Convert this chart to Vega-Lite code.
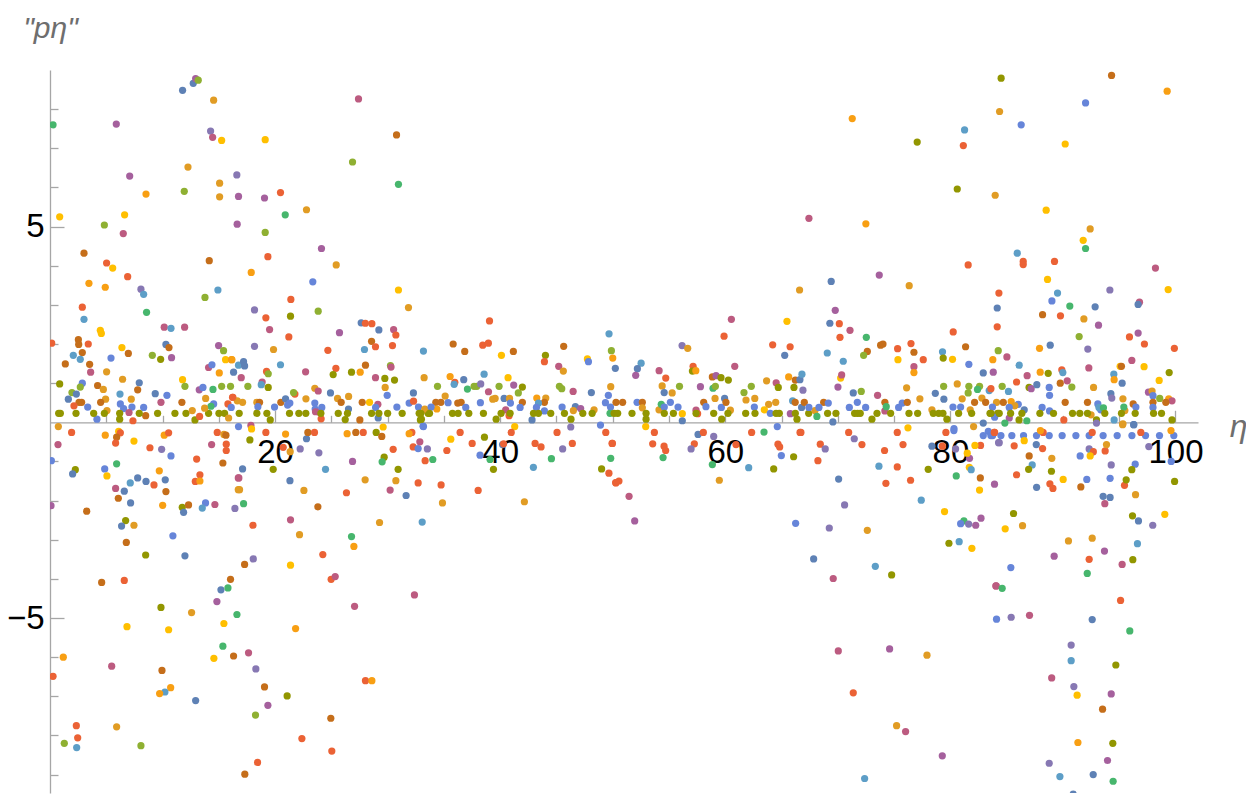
{
"$schema":"https://vega.github.io/schema/vega-lite/v6.json",
"width":1148,"height":723,
"autosize":{"type":"none"},
"padding":{"left":50,"top":70,"right":48,"bottom":6},
"background":"white",
"config":{"view":{"stroke":null}},
"data":{"values":[
{"x":0.27,"y":7.6,"s":"G2"},{"x":5.89,"y":7.62,"s":"M"},{"x":7.08,"y":6.29,"s":"M"},{"x":8.53,"y":5.83,"s":"O2"},{"x":0.86,"y":5.25,"s":"Y"},{"x":6.63,"y":5.3,"s":"Y"},{"x":4.83,"y":5.04,"s":"G"},{"x":6.51,"y":4.82,"s":"K"},{"x":3.02,"y":4.32,"s":"D"},{"x":5.03,"y":4.07,"s":"R"},{"x":5.57,"y":3.94,"s":"Y"},{"x":6.9,"y":3.72,"s":"R"},{"x":3.46,"y":3.55,"s":"O2"},{"x":4.91,"y":3.45,"s":"O2"},{"x":8.08,"y":3.4,"s":"P"},{"x":8.32,"y":3.27,"s":"L"},{"x":2.87,"y":2.94,"s":"R"},{"x":8.58,"y":2.81,"s":"G2"},{"x":3.02,"y":2.63,"s":"L"},{"x":10.15,"y":2.43,"s":"K"},{"x":10.75,"y":2.4,"s":"L"},{"x":11.96,"y":2.43,"s":"K"},{"x":4.47,"y":2.35,"s":"Y"},{"x":4.56,"y":2.27,"s":"Y"},{"x":0.15,"y":2.02,"s":"R"},{"x":2.52,"y":2.11,"s":"D"},{"x":2.55,"y":1.99,"s":"D"},{"x":3.4,"y":2.0,"s":"R"},{"x":10.3,"y":1.99,"s":"B"},{"x":10.57,"y":1.91,"s":"D"},{"x":6.39,"y":1.91,"s":"Y"},{"x":6.96,"y":1.76,"s":"D"},{"x":2.87,"y":1.78,"s":"D"},{"x":2.07,"y":1.71,"s":"L"},{"x":2.69,"y":1.61,"s":"L"},{"x":5.42,"y":1.64,"s":"B2"},{"x":9.09,"y":1.71,"s":"G"},{"x":9.83,"y":1.61,"s":"V"},{"x":10.8,"y":1.65,"s":"M"},{"x":1.36,"y":1.49,"s":"D"},{"x":3.52,"y":1.48,"s":"D"},{"x":3.61,"y":1.28,"s":"K"},{"x":5.03,"y":1.29,"s":"O"},{"x":0.86,"y":0.98,"s":"V"},{"x":2.87,"y":1.0,"s":"B2"},{"x":2.69,"y":0.9,"s":"G"},{"x":4.23,"y":0.94,"s":"D"},{"x":4.74,"y":0.84,"s":"O"},{"x":6.45,"y":1.1,"s":"O"},{"x":7.93,"y":1.01,"s":"B"},{"x":7.79,"y":0.83,"s":"D"},{"x":6.22,"y":0.72,"s":"L"},{"x":9.35,"y":0.73,"s":"B"},{"x":10.39,"y":0.69,"s":"B2"},{"x":9.86,"y":0.51,"s":"K"},{"x":1.95,"y":0.76,"s":"G"},{"x":1.63,"y":0.59,"s":"B"},{"x":2.34,"y":0.72,"s":"B"},{"x":2.58,"y":0.51,"s":"D"},{"x":2.81,"y":0.51,"s":"D"},{"x":2.13,"y":0.42,"s":"R"},{"x":4.94,"y":0.59,"s":"O"},{"x":4.5,"y":0.51,"s":"D"},{"x":7.22,"y":0.59,"s":"O"},{"x":3.35,"y":0.39,"s":"B2"},{"x":6.25,"y":0.47,"s":"B2"},{"x":6.54,"y":0.35,"s":"B2"},{"x":7.28,"y":0.39,"s":"B2"},{"x":8.32,"y":0.38,"s":"B2"},{"x":7.02,"y":0.25,"s":"K"},{"x":5.06,"y":0.3,"s":"O"},{"x":8.5,"y":0.17,"s":"D"},{"x":4.17,"y":0.08,"s":"B2"},{"x":6.19,"y":0.08,"s":"V"},{"x":7.37,"y":0.04,"s":"R"},
{"x":0.77,"y":0.23,"s":"V"},{"x":0.92,"y":0.23,"s":"V"},{"x":2.31,"y":0.23,"s":"V"},{"x":3.88,"y":0.23,"s":"V"},{"x":4.83,"y":0.23,"s":"V"},{"x":6.19,"y":0.23,"s":"V"},{"x":7.93,"y":0.23,"s":"V"},{"x":9.56,"y":0.23,"s":"V"},{"x":11.1,"y":0.23,"s":"V"},{"x":12.08,"y":0.23,"s":"V"},{"x":14.09,"y":0.23,"s":"V"},{"x":15.01,"y":0.23,"s":"V"},{"x":15.51,"y":0.23,"s":"V"},{"x":16.81,"y":0.23,"s":"V"},{"x":12.88,"y":0.06,"s":"V"},
{"x":11.78,"y":8.48,"s":"B"},{"x":12.73,"y":8.66,"s":"B"},{"x":12.94,"y":8.78,"s":"M"},{"x":13.17,"y":8.74,"s":"G"},{"x":14.54,"y":8.23,"s":"O"},{"x":14.27,"y":7.44,"s":"P"},{"x":14.45,"y":7.28,"s":"K"},{"x":15.25,"y":7.2,"s":"Y"},{"x":12.26,"y":6.52,"s":"O"},{"x":15.07,"y":6.11,"s":"O"},{"x":15.07,"y":5.76,"s":"O"},{"x":11.93,"y":5.9,"s":"G"},{"x":16.6,"y":6.32,"s":"P"},{"x":16.75,"y":5.77,"s":"M"},{"x":16.63,"y":5.06,"s":"M"},{"x":14.15,"y":4.13,"s":"D"},{"x":13.77,"y":3.19,"s":"G"},{"x":14.92,"y":3.38,"s":"L"},{"x":14.98,"y":1.96,"s":"M"},{"x":15.42,"y":1.83,"s":"G"},{"x":15.6,"y":1.6,"s":"Y"},{"x":16.13,"y":1.6,"s":"O2"},{"x":14.09,"y":1.4,"s":"K"},{"x":14.39,"y":1.47,"s":"B2"},{"x":15.04,"y":1.26,"s":"O2"},{"x":16.31,"y":1.28,"s":"B"},{"x":11.78,"y":1.09,"s":"Y"},{"x":11.99,"y":0.92,"s":"G"},{"x":13.26,"y":0.83,"s":"M"},{"x":13.59,"y":0.89,"s":"B2"},{"x":14.48,"y":0.84,"s":"G2"},{"x":15.25,"y":0.92,"s":"G"},{"x":16.04,"y":0.92,"s":"G"},{"x":13.83,"y":0.61,"s":"O"},{"x":11.72,"y":0.51,"s":"D"},{"x":14.54,"y":0.47,"s":"B2"},{"x":14.3,"y":0.41,"s":"G2"},{"x":13.74,"y":0.36,"s":"O"},{"x":16.25,"y":0.64,"s":"R"},{"x":16.64,"y":0.55,"s":"O"},{"x":15.81,"y":0.47,"s":"R"},{"x":16.1,"y":0.38,"s":"B2"},{"x":12.64,"y":0.3,"s":"O"},{"x":13.29,"y":0.15,"s":"R"},{"x":15.87,"y":0.11,"s":"O"},{"x":16.75,"y":-0.11,"s":"B2"},
{"x":0.74,"y":-0.11,"s":"O"},{"x":1.92,"y":-0.26,"s":"R"},{"x":0.71,"y":-0.57,"s":"K"},{"x":0.12,"y":-0.98,"s":"B2"},{"x":2.25,"y":-1.21,"s":"V"},{"x":2.01,"y":-1.32,"s":"B"},{"x":0.09,"y":-2.13,"s":"M"},{"x":3.26,"y":-2.27,"s":"D"},{"x":4.91,"y":-0.33,"s":"O2"},{"x":6.1,"y":-0.23,"s":"Y"},{"x":6.25,"y":-0.27,"s":"R"},{"x":5.92,"y":-0.38,"s":"D"},{"x":5.83,"y":-0.53,"s":"R"},{"x":7.46,"y":-0.48,"s":"Y"},{"x":8.88,"y":-0.65,"s":"R"},{"x":9.92,"y":-0.69,"s":"P"},{"x":10.15,"y":-0.33,"s":"O2"},{"x":10.54,"y":-0.27,"s":"R"},{"x":10.75,"y":-0.86,"s":"B2"},{"x":5.92,"y":-1.06,"s":"G2"},{"x":4.86,"y":-1.19,"s":"B2"},{"x":5.06,"y":-1.37,"s":"Y"},{"x":9.71,"y":-1.24,"s":"O2"},{"x":7.79,"y":-1.42,"s":"B"},{"x":8.53,"y":-1.51,"s":"B"},{"x":7.13,"y":-1.55,"s":"L"},{"x":9.24,"y":-1.6,"s":"R"},{"x":10.24,"y":-1.47,"s":"B"},{"x":5.83,"y":-1.69,"s":"K"},{"x":6.6,"y":-1.76,"s":"B"},{"x":10.3,"y":-1.77,"s":"D"},{"x":6.07,"y":-1.94,"s":"D"},{"x":7.16,"y":-2.06,"s":"B"},{"x":10.01,"y":-2.12,"s":"O2"},{"x":11.75,"y":-2.17,"s":"V"},{"x":12.31,"y":-2.11,"s":"D"},{"x":11.87,"y":-2.3,"s":"B"},{"x":13.82,"y":-2.06,"s":"B2"},{"x":13.53,"y":-2.19,"s":"L"},{"x":14.65,"y":-2.1,"s":"K"},{"x":16.43,"y":-2.2,"s":"P"},{"x":6.72,"y":-2.51,"s":"V"},{"x":6.36,"y":-2.65,"s":"B"},{"x":7.46,"y":-2.63,"s":"O"},{"x":10.92,"y":-2.9,"s":"B2"},{"x":6.78,"y":-3.07,"s":"D"},{"x":8.5,"y":-3.39,"s":"V"},{"x":11.99,"y":-3.41,"s":"B"},{"x":4.59,"y":-4.09,"s":"D"},{"x":6.6,"y":-4.04,"s":"R"},{"x":16.04,"y":-4.01,"s":"D"},{"x":15.19,"y":-4.28,"s":"B"},{"x":15.81,"y":-4.23,"s":"G2"},{"x":14.83,"y":-4.58,"s":"M"},{"x":9.86,"y":-4.73,"s":"V"},{"x":12.58,"y":-4.86,"s":"O"},{"x":16.61,"y":-4.91,"s":"G2"},{"x":6.84,"y":-5.22,"s":"Y"},{"x":10.54,"y":-5.3,"s":"Y"},{"x":15.45,"y":-5.14,"s":"Y"},{"x":15.36,"y":-5.72,"s":"G2"},{"x":1.18,"y":-6.0,"s":"O2"},{"x":14.56,"y":-6.03,"s":"Y"},{"x":16.31,"y":-5.97,"s":"D"},{"x":5.48,"y":-6.23,"s":"K"},{"x":0.27,"y":-6.49,"s":"R"},{"x":9.95,"y":-6.34,"s":"D"},{"x":10.72,"y":-6.78,"s":"O2"},{"x":10.21,"y":-6.89,"s":"L"},{"x":9.74,"y":-6.93,"s":"O2"},{"x":12.94,"y":-7.11,"s":"B"},{"x":2.34,"y":-7.75,"s":"R"},{"x":5.92,"y":-7.78,"s":"O"},{"x":2.46,"y":-8.06,"s":"R"},{"x":1.27,"y":-8.2,"s":"G"},{"x":2.37,"y":-8.31,"s":"L"},{"x":8.08,"y":-8.26,"s":"G"},{"x":13.03,"y":-0.94,"s":"R"},{"x":13.32,"y":-1.34,"s":"R"},{"x":12.91,"y":-1.51,"s":"R"},{"x":13.32,"y":-1.5,"s":"O2"},{"x":14.36,"y":-0.57,"s":"K"},{"x":14.86,"y":-0.26,"s":"R"},{"x":15.45,"y":-0.31,"s":"O"},{"x":15.63,"y":-0.33,"s":"D"},{"x":15.66,"y":-0.56,"s":"R"},{"x":15.66,"y":-0.72,"s":"R"},{"x":15.36,"y":-1.04,"s":"D"},{"x":16.73,"y":-1.42,"s":"K"},{"x":16.73,"y":-1.72,"s":"O"},
{"x":27.41,"y":8.26,"s":"K"},{"x":19.12,"y":7.22,"s":"Y"},{"x":30.79,"y":7.34,"s":"D"},{"x":26.88,"y":6.65,"s":"G"},{"x":30.96,"y":6.08,"s":"G2"},{"x":20.48,"y":5.87,"s":"R"},{"x":20.9,"y":5.3,"s":"G2"},{"x":19.06,"y":5.73,"s":"M"},{"x":22.79,"y":5.43,"s":"O"},{"x":19.12,"y":4.85,"s":"G"},{"x":19.36,"y":4.23,"s":"R"},{"x":24.12,"y":4.44,"s":"M"},{"x":17.88,"y":3.83,"s":"O2"},{"x":25.43,"y":4.02,"s":"O"},{"x":23.35,"y":3.59,"s":"B2"},{"x":30.96,"y":3.38,"s":"Y"},{"x":31.85,"y":2.93,"s":"O"},{"x":21.4,"y":3.14,"s":"R"},{"x":23.83,"y":2.84,"s":"G"},{"x":18.17,"y":2.87,"s":"P"},{"x":19.18,"y":2.67,"s":"R"},{"x":21.37,"y":2.71,"s":"V"},{"x":19.51,"y":2.37,"s":"K"},{"x":25.72,"y":2.29,"s":"M"},{"x":21.22,"y":2.18,"s":"R"},{"x":27.65,"y":2.54,"s":"B"},{"x":28.02,"y":2.53,"s":"R"},{"x":28.6,"y":2.52,"s":"R"},{"x":29.22,"y":2.36,"s":"B"},{"x":30.53,"y":2.37,"s":"K"},{"x":30.73,"y":2.23,"s":"R"},{"x":18.17,"y":1.94,"s":"P"},{"x":19.86,"y":1.86,"s":"O"},{"x":24.69,"y":1.84,"s":"R"},{"x":28.57,"y":2.07,"s":"D"},{"x":28.92,"y":1.93,"s":"R"},{"x":27.94,"y":1.86,"s":"L"},{"x":30.43,"y":1.96,"s":"R"},{"x":33.18,"y":1.82,"s":"L"},{"x":16.16,"y":1.6,"s":"O2"},{"x":16.75,"y":1.46,"s":"L"},{"x":17.2,"y":1.55,"s":"B"},{"x":17.29,"y":1.44,"s":"B"},{"x":16.99,"y":1.14,"s":"K"},{"x":17.58,"y":0.92,"s":"G"},{"x":20.48,"y":1.47,"s":"L"},{"x":19.24,"y":1.3,"s":"R"},{"x":19.39,"y":1.24,"s":"G"},{"x":18.85,"y":1.03,"s":"K"},{"x":18.77,"y":0.96,"s":"L"},{"x":19.39,"y":0.89,"s":"V"},{"x":22.71,"y":1.29,"s":"K"},{"x":25.4,"y":1.38,"s":"R"},{"x":25.16,"y":1.22,"s":"V"},{"x":26.79,"y":1.28,"s":"V"},{"x":28.03,"y":1.46,"s":"D"},{"x":27.56,"y":1.28,"s":"O2"},{"x":30.25,"y":1.45,"s":"G"},{"x":30.3,"y":1.41,"s":"K"},{"x":28.92,"y":1.14,"s":"K"},{"x":29.75,"y":1.12,"s":"V"},{"x":30.61,"y":1.08,"s":"V"},{"x":33.24,"y":1.14,"s":"O"},{"x":29.78,"y":0.89,"s":"O"},{"x":29.96,"y":0.69,"s":"B2"},{"x":32.29,"y":0.75,"s":"B"},{"x":16.22,"y":0.64,"s":"R"},{"x":17.11,"y":0.51,"s":"O"},{"x":18.38,"y":0.51,"s":"O"},{"x":18.62,"y":0.51,"s":"D"},{"x":20.51,"y":0.51,"s":"D"},{"x":20.93,"y":0.6,"s":"B"},{"x":21.76,"y":0.72,"s":"R"},{"x":21.64,"y":0.76,"s":"G"},{"x":23.53,"y":0.87,"s":"O"},{"x":23.83,"y":0.8,"s":"K"},{"x":24.92,"y":0.75,"s":"B"},{"x":22.74,"y":0.6,"s":"O"},{"x":23.53,"y":0.49,"s":"B2"},{"x":25.55,"y":0.61,"s":"O"},{"x":25.87,"y":0.51,"s":"D"},{"x":26.53,"y":0.66,"s":"O"},{"x":27.74,"y":0.51,"s":"D"},{"x":28.39,"y":0.51,"s":"Y"},{"x":19.95,"y":0.39,"s":"B2"},{"x":18.47,"y":0.4,"s":"B2"},{"x":21.11,"y":0.44,"s":"B2"},{"x":21.31,"y":0.49,"s":"B2"},{"x":23.56,"y":0.34,"s":"B2"},{"x":23.59,"y":0.27,"s":"K"},{"x":23.89,"y":0.26,"s":"K"},{"x":24.15,"y":0.38,"s":"B2"},{"x":26.52,"y":0.34,"s":"B"},{"x":29.13,"y":0.46,"s":"K"},{"x":28.93,"y":0.38,"s":"B2"},{"x":30.82,"y":0.39,"s":"B2"},{"x":31.91,"y":0.49,"s":"B2"},{"x":32.3,"y":0.54,"s":"R"},{"x":32.74,"y":0.39,"s":"B2"},{"x":33.36,"y":0.32,"s":"O"},{"x":24.09,"y":0.09,"s":"R"},{"x":27.53,"y":0.06,"s":"D"},{"x":29.16,"y":0.11,"s":"B"},{"x":19.57,"y":0.06,"s":"V"},{"x":26.23,"y":0.07,"s":"V"},{"x":32.91,"y":0.06,"s":"V"},
{"x":18.38,"y":0.23,"s":"V"},{"x":19.27,"y":0.23,"s":"V"},{"x":21.28,"y":0.23,"s":"V"},{"x":22.11,"y":0.23,"s":"V"},{"x":22.73,"y":0.23,"s":"V"},{"x":24.07,"y":0.23,"s":"V"},{"x":25.61,"y":0.23,"s":"V"},{"x":26.43,"y":0.23,"s":"V"},{"x":28.57,"y":0.23,"s":"V"},{"x":29.22,"y":0.23,"s":"V"},{"x":30.0,"y":0.23,"s":"V"},{"x":31.29,"y":0.23,"s":"V"},{"x":32.8,"y":0.23,"s":"V"},{"x":33.6,"y":0.23,"s":"V"},
{"x":17.85,"y":-0.08,"s":"K"},{"x":29.6,"y":-0.12,"s":"Y"},{"x":33.15,"y":-0.1,"s":"B2"},{"x":17.91,"y":-0.17,"s":"Y"},{"x":17.76,"y":-0.45,"s":"V"},{"x":19.18,"y":-0.26,"s":"R"},{"x":20.93,"y":-0.3,"s":"O2"},{"x":20.72,"y":-0.64,"s":"R"},{"x":21.34,"y":-0.75,"s":"O"},{"x":19.83,"y":-1.2,"s":"V"},{"x":17.11,"y":-1.19,"s":"B"},{"x":16.78,"y":-1.42,"s":"K"},{"x":16.84,"y":-1.72,"s":"O"},{"x":17.2,"y":-2.08,"s":"G2"},{"x":18.03,"y":-2.63,"s":"R"},{"x":22.23,"y":-0.68,"s":"P"},{"x":22.79,"y":-0.42,"s":"B"},{"x":22.91,"y":-0.26,"s":"D"},{"x":23.5,"y":-0.26,"s":"R"},{"x":23.89,"y":-0.78,"s":"P"},{"x":24.48,"y":-1.2,"s":"L"},{"x":21.32,"y":-1.49,"s":"B"},{"x":22.56,"y":-1.74,"s":"O"},{"x":23.8,"y":-2.16,"s":"D"},{"x":21.37,"y":-2.49,"s":"K"},{"x":26.34,"y":-1.8,"s":"R"},{"x":22.17,"y":-2.87,"s":"O"},{"x":21.37,"y":-3.65,"s":"Y"},{"x":24.24,"y":-3.38,"s":"R"},{"x":24.98,"y":-4.01,"s":"R"},{"x":25.34,"y":-3.94,"s":"K"},{"x":17.29,"y":-3.63,"s":"D"},{"x":18.06,"y":-3.49,"s":"P"},{"x":27.06,"y":-4.7,"s":"K"},{"x":21.82,"y":-5.27,"s":"O2"},{"x":17.64,"y":-5.89,"s":"K"},{"x":18.29,"y":-6.3,"s":"P"},{"x":19.06,"y":-6.76,"s":"D"},{"x":21.07,"y":-6.99,"s":"V"},{"x":19.36,"y":-7.23,"s":"M"},{"x":18.26,"y":-7.48,"s":"G"},{"x":24.95,"y":-7.56,"s":"D"},{"x":22.38,"y":-8.08,"s":"R"},{"x":25.04,"y":-8.4,"s":"R"},{"x":18.44,"y":-8.69,"s":"R"},{"x":17.31,"y":-8.99,"s":"D"},{"x":28.03,"y":-6.6,"s":"R"},{"x":28.6,"y":-6.6,"s":"O2"},{"x":32.38,"y":-4.41,"s":"K"},{"x":33.07,"y":-2.55,"s":"L"},{"x":29.28,"y":-2.56,"s":"O"},{"x":26.79,"y":-2.92,"s":"G2"},{"x":27.0,"y":-3.17,"s":"O2"},{"x":28.0,"y":-1.47,"s":"O"},{"x":26.88,"y":-1.0,"s":"M"},{"x":27.17,"y":-0.26,"s":"D"},{"x":26.4,"y":-0.29,"s":"O2"},{"x":27.83,"y":-0.26,"s":"R"},{"x":28.98,"y":-0.26,"s":"V"},{"x":29.48,"y":-0.36,"s":"D"},{"x":30.49,"y":-0.69,"s":"R"},{"x":29.69,"y":-0.89,"s":"V"},{"x":29.51,"y":-1.01,"s":"G2"},{"x":30.93,"y":-1.2,"s":"V"},{"x":30.73,"y":-1.49,"s":"O"},{"x":30.22,"y":-1.73,"s":"K"},{"x":31.64,"y":-1.87,"s":"B"},{"x":32.71,"y":-1.55,"s":"R"},{"x":32.15,"y":-0.26,"s":"R"},{"x":31.91,"y":-0.29,"s":"O2"},{"x":32.27,"y":-0.63,"s":"R"},{"x":32.71,"y":-0.67,"s":"B2"},{"x":32.86,"y":-0.5,"s":"K"},{"x":33.53,"y":-0.68,"s":"P"},{"x":33.33,"y":-0.98,"s":"R"},
{"x":39.05,"y":2.59,"s":"R"},{"x":35.82,"y":2.0,"s":"D"},{"x":38.45,"y":1.97,"s":"R"},{"x":38.95,"y":2.02,"s":"R"},{"x":36.85,"y":1.81,"s":"D"},{"x":40.11,"y":1.71,"s":"Y"},{"x":41.17,"y":1.81,"s":"D"},{"x":44.02,"y":1.71,"s":"V"},{"x":43.93,"y":1.55,"s":"R"},{"x":45.2,"y":1.43,"s":"K"},{"x":45.61,"y":1.31,"s":"O"},{"x":45.64,"y":1.94,"s":"D"},{"x":47.75,"y":1.62,"s":"Y"},{"x":47.84,"y":1.55,"s":"B2"},{"x":49.67,"y":2.26,"s":"L"},{"x":49.88,"y":1.83,"s":"G"},{"x":50.0,"y":1.64,"s":"O2"},{"x":50.23,"y":1.38,"s":"B"},{"x":35.55,"y":1.17,"s":"O2"},{"x":35.97,"y":1.02,"s":"R"},{"x":35.91,"y":0.97,"s":"L"},{"x":36.76,"y":1.09,"s":"B"},{"x":37.09,"y":0.85,"s":"G2"},{"x":34.43,"y":0.92,"s":"G"},{"x":37.68,"y":0.92,"s":"G"},{"x":37.92,"y":0.92,"s":"G"},{"x":38.27,"y":0.98,"s":"P"},{"x":38.57,"y":1.23,"s":"L"},{"x":38.96,"y":0.78,"s":"K"},{"x":39.9,"y":0.92,"s":"G"},{"x":40.7,"y":1.14,"s":"Y"},{"x":41.2,"y":0.95,"s":"M"},{"x":41.61,"y":0.75,"s":"G"},{"x":41.97,"y":0.9,"s":"V"},{"x":35.11,"y":0.67,"s":"O"},{"x":34.28,"y":0.51,"s":"D"},{"x":34.73,"y":0.51,"s":"D"},{"x":36.23,"y":0.49,"s":"D"},{"x":36.53,"y":0.51,"s":"D"},{"x":35.37,"y":0.5,"s":"B2"},{"x":33.3,"y":0.34,"s":"O"},{"x":34.37,"y":0.34,"s":"O2"},{"x":33.86,"y":0.39,"s":"B2"},{"x":36.94,"y":0.38,"s":"B2"},{"x":38.24,"y":0.5,"s":"B2"},{"x":39.34,"y":0.59,"s":"O"},{"x":39.55,"y":0.61,"s":"O"},{"x":40.35,"y":0.61,"s":"B"},{"x":40.83,"y":0.61,"s":"O"},{"x":40.91,"y":0.49,"s":"B2"},{"x":41.97,"y":0.51,"s":"D"},{"x":41.77,"y":0.38,"s":"B2"},{"x":40.49,"y":0.32,"s":"K"},{"x":40.79,"y":0.17,"s":"R"},{"x":39.64,"y":0.08,"s":"V"},{"x":43.25,"y":0.62,"s":"O2"},{"x":44.05,"y":0.62,"s":"O"},{"x":43.93,"y":0.51,"s":"D"},{"x":43.4,"y":0.49,"s":"L"},{"x":43.22,"y":0.38,"s":"B2"},{"x":43.93,"y":0.29,"s":"B2"},{"x":45.26,"y":0.92,"s":"G"},{"x":45.47,"y":0.86,"s":"G"},{"x":46.48,"y":0.79,"s":"K"},{"x":48.1,"y":0.76,"s":"B"},{"x":45.5,"y":0.39,"s":"B2"},{"x":46.68,"y":0.4,"s":"B"},{"x":46.5,"y":0.3,"s":"O"},{"x":47.15,"y":0.35,"s":"M"},{"x":48.34,"y":0.32,"s":"O"},{"x":46.29,"y":0.08,"s":"V"},{"x":49.82,"y":0.91,"s":"O"},{"x":49.61,"y":0.69,"s":"B2"},{"x":49.35,"y":0.5,"s":"B2"},{"x":49.8,"y":0.39,"s":"B2"},{"x":50.29,"y":0.51,"s":"D"},{"x":49.76,"y":0.23,"s":"G2"},{"x":42.83,"y":0.06,"s":"B"},{"x":33.0,"y":0.08,"s":"V"},
{"x":32.95,"y":0.23,"s":"V"},{"x":33.72,"y":0.23,"s":"V"},{"x":35.76,"y":0.23,"s":"V"},{"x":36.26,"y":0.23,"s":"V"},{"x":37.21,"y":0.23,"s":"V"},{"x":38.51,"y":0.23,"s":"V"},{"x":40.08,"y":0.23,"s":"V"},{"x":40.88,"y":0.23,"s":"V"},{"x":42.96,"y":0.23,"s":"V"},{"x":43.4,"y":0.23,"s":"V"},{"x":44.49,"y":0.23,"s":"V"},{"x":45.71,"y":0.23,"s":"V"},{"x":47.34,"y":0.23,"s":"V"},{"x":48.17,"y":0.23,"s":"V"},{"x":50.12,"y":0.23,"s":"V"},{"x":50.44,"y":0.23,"s":"V"},
{"x":33.18,"y":-0.11,"s":"B2"},{"x":41.29,"y":-0.11,"s":"Y"},{"x":46.27,"y":-0.12,"s":"P"},{"x":48.91,"y":-0.07,"s":"B2"},{"x":34.01,"y":-0.95,"s":"G2"},{"x":34.75,"y":-1.6,"s":"R"},{"x":34.87,"y":-2.06,"s":"O"},{"x":35.61,"y":-0.43,"s":"Y"},{"x":35.26,"y":-0.72,"s":"R"},{"x":36.44,"y":-0.26,"s":"R"},{"x":37.51,"y":-0.54,"s":"R"},{"x":38.6,"y":-0.38,"s":"V"},{"x":38.21,"y":-0.84,"s":"B2"},{"x":39.1,"y":-0.95,"s":"G2"},{"x":39.4,"y":-1.2,"s":"V"},{"x":38.04,"y":-1.74,"s":"R"},{"x":40.21,"y":-0.57,"s":"B"},{"x":40.3,"y":-0.55,"s":"R"},{"x":40.98,"y":-0.26,"s":"R"},{"x":43.1,"y":-0.54,"s":"R"},{"x":43.63,"y":-0.63,"s":"R"},{"x":42.95,"y":-1.15,"s":"L"},{"x":42.15,"y":-2.03,"s":"O"},{"x":44.55,"y":-0.93,"s":"G2"},{"x":45.05,"y":-0.26,"s":"R"},{"x":45.55,"y":-0.68,"s":"P"},{"x":46.41,"y":-0.54,"s":"R"},{"x":49.38,"y":-0.26,"s":"R"},{"x":49.94,"y":-0.54,"s":"R"},{"x":49.82,"y":-0.92,"s":"G2"},{"x":49.01,"y":-1.19,"s":"V"},{"x":49.66,"y":-1.3,"s":"R"},{"x":50.28,"y":-1.55,"s":"R"},{"x":50.55,"y":-1.5,"s":"R"},
{"x":67.43,"y":5.21,"s":"K"},{"x":66.6,"y":3.38,"s":"O"},{"x":65.48,"y":2.58,"s":"Y"},{"x":60.54,"y":2.63,"s":"K"},{"x":59.89,"y":2.2,"s":"R"},{"x":64.21,"y":1.98,"s":"R"},{"x":65.76,"y":1.93,"s":"R"},{"x":65.28,"y":1.71,"s":"B"},{"x":56.16,"y":1.96,"s":"P"},{"x":56.66,"y":1.89,"s":"O"},{"x":52.52,"y":1.51,"s":"L"},{"x":52.19,"y":1.37,"s":"B"},{"x":52.04,"y":1.2,"s":"M"},{"x":54.12,"y":1.32,"s":"K"},{"x":54.71,"y":1.13,"s":"R"},{"x":54.39,"y":0.93,"s":"O"},{"x":54.57,"y":0.76,"s":"B"},{"x":55.28,"y":0.75,"s":"O"},{"x":55.93,"y":0.92,"s":"G"},{"x":57.14,"y":1.43,"s":"R"},{"x":57.08,"y":1.31,"s":"V"},{"x":57.38,"y":1.32,"s":"O2"},{"x":57.79,"y":0.91,"s":"M"},{"x":60.84,"y":1.43,"s":"K"},{"x":58.85,"y":1.16,"s":"D"},{"x":59.18,"y":1.19,"s":"M"},{"x":59.62,"y":1.14,"s":"V"},{"x":60.27,"y":1.08,"s":"V"},{"x":58.91,"y":0.87,"s":"G2"},{"x":59.12,"y":0.92,"s":"G"},{"x":62.31,"y":0.92,"s":"G"},{"x":61.66,"y":0.76,"s":"G"},{"x":63.67,"y":1.06,"s":"O"},{"x":64.52,"y":1.01,"s":"K"},{"x":64.71,"y":0.89,"s":"V"},{"x":65.63,"y":1.16,"s":"O2"},{"x":66.22,"y":1.08,"s":"D"},{"x":66.63,"y":1.09,"s":"B"},{"x":66.81,"y":1.23,"s":"L"},{"x":66.1,"y":0.89,"s":"V"},{"x":66.9,"y":0.82,"s":"P"},{"x":59.09,"y":0.61,"s":"O"},{"x":50.88,"y":0.51,"s":"D"},{"x":52.16,"y":0.51,"s":"B2"},{"x":52.63,"y":0.51,"s":"D"},{"x":52.63,"y":0.37,"s":"O"},{"x":54.11,"y":0.32,"s":"O"},{"x":54.31,"y":0.46,"s":"G2"},{"x":54.58,"y":0.39,"s":"B2"},{"x":55.12,"y":0.51,"s":"B2"},{"x":55.8,"y":0.39,"s":"B2"},{"x":57.4,"y":0.31,"s":"K"},{"x":57.54,"y":0.22,"s":"R"},{"x":58.08,"y":0.51,"s":"D"},{"x":58.28,"y":0.4,"s":"B2"},{"x":59.65,"y":0.38,"s":"B2"},{"x":59.94,"y":0.61,"s":"B"},{"x":60.06,"y":0.51,"s":"D"},{"x":60.45,"y":0.31,"s":"O"},{"x":61.84,"y":0.57,"s":"O"},{"x":62.62,"y":0.61,"s":"O"},{"x":62.58,"y":0.39,"s":"B2"},{"x":63.85,"y":0.46,"s":"O"},{"x":64.48,"y":0.51,"s":"O"},{"x":63.47,"y":0.32,"s":"Y"},{"x":64.0,"y":0.23,"s":"B2"},{"x":65.98,"y":0.55,"s":"L"},{"x":66.21,"y":0.51,"s":"D"},{"x":66.78,"y":0.38,"s":"B"},{"x":65.78,"y":0.22,"s":"M"},{"x":56.18,"y":0.22,"s":"Y"},{"x":52.96,"y":0.08,"s":"V"},{"x":59.68,"y":0.08,"s":"V"},{"x":66.37,"y":0.08,"s":"V"},{"x":56.18,"y":0.04,"s":"B"},
{"x":51.71,"y":0.23,"s":"V"},{"x":52.96,"y":0.23,"s":"V"},{"x":54.58,"y":0.23,"s":"V"},{"x":55.39,"y":0.23,"s":"V"},{"x":57.4,"y":0.23,"s":"V"},{"x":58.97,"y":0.23,"s":"V"},{"x":60.24,"y":0.23,"s":"V"},{"x":61.81,"y":0.23,"s":"V"},{"x":62.64,"y":0.23,"s":"V"},{"x":64.51,"y":0.23,"s":"V"},{"x":64.8,"y":0.23,"s":"V"},{"x":66.22,"y":0.23,"s":"V"},{"x":67.41,"y":0.23,"s":"V"},
{"x":52.93,"y":-0.11,"s":"Y"},{"x":64.62,"y":-0.11,"s":"B2"},{"x":49.97,"y":-0.54,"s":"R"},{"x":50.26,"y":-1.54,"s":"R"},{"x":51.45,"y":-1.89,"s":"K"},{"x":51.95,"y":-2.52,"s":"M"},{"x":53.7,"y":-0.26,"s":"R"},{"x":53.55,"y":-0.55,"s":"R"},{"x":54.56,"y":-0.61,"s":"R"},{"x":54.7,"y":-0.72,"s":"R"},{"x":54.47,"y":-0.9,"s":"G2"},{"x":57.58,"y":-0.31,"s":"B"},{"x":58.05,"y":-0.26,"s":"R"},{"x":57.25,"y":-0.55,"s":"R"},{"x":56.96,"y":-0.68,"s":"P"},{"x":58.97,"y":-0.36,"s":"P"},{"x":60.95,"y":-0.57,"s":"R"},{"x":58.85,"y":-1.08,"s":"G2"},{"x":59.47,"y":-1.48,"s":"O"},{"x":62.08,"y":-1.16,"s":"L"},{"x":62.34,"y":-0.26,"s":"R"},{"x":63.44,"y":-0.25,"s":"G2"},{"x":64.68,"y":-0.56,"s":"R"},{"x":64.83,"y":-0.63,"s":"R"},{"x":64.98,"y":-0.85,"s":"B2"},{"x":64.3,"y":-1.19,"s":"V"},{"x":66.64,"y":-0.26,"s":"R"},{"x":66.07,"y":-0.88,"s":"V"},{"x":66.25,"y":-2.58,"s":"B2"},
{"x":84.51,"y":8.79,"s":"V"},{"x":84.37,"y":7.94,"s":"O"},{"x":81.26,"y":7.47,"s":"L"},{"x":81.15,"y":7.07,"s":"R"},{"x":71.28,"y":7.76,"s":"O2"},{"x":77.05,"y":7.16,"s":"V"},{"x":80.61,"y":5.96,"s":"V"},{"x":83.98,"y":5.8,"s":"O"},{"x":72.49,"y":5.07,"s":"O2"},{"x":81.58,"y":4.02,"s":"R"},{"x":73.68,"y":3.76,"s":"M"},{"x":76.34,"y":3.49,"s":"O"},{"x":69.41,"y":3.6,"s":"B"},{"x":84.31,"y":3.3,"s":"R"},{"x":84.16,"y":2.92,"s":"B"},{"x":69.77,"y":2.86,"s":"M"},{"x":69.29,"y":2.53,"s":"B"},{"x":70.13,"y":2.52,"s":"R"},{"x":70.19,"y":2.17,"s":"R"},{"x":71.08,"y":2.35,"s":"K"},{"x":84.16,"y":2.44,"s":"R"},{"x":84.25,"y":1.83,"s":"G"},{"x":69.06,"y":1.77,"s":"L"},{"x":70.48,"y":1.56,"s":"L"},{"x":72.53,"y":2.17,"s":"G2"},{"x":72.62,"y":1.81,"s":"D"},{"x":72.29,"y":1.71,"s":"G"},{"x":73.8,"y":1.97,"s":"D"},{"x":74.01,"y":2.0,"s":"D"},{"x":75.31,"y":1.88,"s":"R"},{"x":75.34,"y":1.6,"s":"Y"},{"x":76.5,"y":2.01,"s":"R"},{"x":76.76,"y":1.79,"s":"D"},{"x":77.59,"y":1.6,"s":"R"},{"x":76.76,"y":1.42,"s":"K"},{"x":76.76,"y":1.27,"s":"O2"},{"x":80.25,"y":2.31,"s":"R"},{"x":81.35,"y":1.93,"s":"D"},{"x":79.3,"y":1.8,"s":"L"},{"x":79.36,"y":1.64,"s":"V"},{"x":80.19,"y":1.61,"s":"Y"},{"x":81.64,"y":1.48,"s":"B2"},{"x":83.77,"y":1.6,"s":"O2"},{"x":82.92,"y":1.26,"s":"B"},{"x":83.81,"y":1.28,"s":"M"},{"x":70.25,"y":1.13,"s":"Y"},{"x":70.34,"y":1.21,"s":"K"},{"x":70.01,"y":0.9,"s":"M"},{"x":71.37,"y":0.75,"s":"B"},{"x":72.08,"y":0.79,"s":"G"},{"x":71.73,"y":0.51,"s":"B2"},{"x":72.47,"y":0.38,"s":"B2"},{"x":73.53,"y":0.69,"s":"K"},{"x":76.11,"y":0.88,"s":"O"},{"x":77.29,"y":0.6,"s":"O"},{"x":78.66,"y":0.74,"s":"B"},{"x":79.4,"y":0.92,"s":"G"},{"x":79.42,"y":0.59,"s":"B"},{"x":80.61,"y":0.98,"s":"O"},{"x":81.64,"y":0.92,"s":"G"},{"x":81.58,"y":0.75,"s":"G"},{"x":82.59,"y":0.92,"s":"G"},{"x":82.41,"y":0.84,"s":"G2"},{"x":83.45,"y":0.81,"s":"L"},{"x":83.6,"y":0.86,"s":"R"},{"x":81.05,"y":0.6,"s":"O"},{"x":82.15,"y":0.51,"s":"D"},{"x":82.8,"y":0.62,"s":"O"},{"x":83.13,"y":0.51,"s":"D"},{"x":84.1,"y":0.51,"s":"O"},{"x":67.02,"y":0.51,"s":"D"},{"x":68.74,"y":0.51,"s":"D"},{"x":69.15,"y":0.49,"s":"B2"},{"x":67.97,"y":0.3,"s":"O"},{"x":67.43,"y":0.38,"s":"B2"},{"x":68.32,"y":0.38,"s":"B2"},{"x":68.14,"y":0.15,"s":"G2"},{"x":71.02,"y":0.38,"s":"B2"},{"x":74.18,"y":0.51,"s":"D"},{"x":74.18,"y":0.29,"s":"K"},{"x":74.3,"y":0.4,"s":"G2"},{"x":75.4,"y":0.38,"s":"B2"},{"x":75.72,"y":0.49,"s":"B2"},{"x":76.17,"y":0.51,"s":"D"},{"x":78.36,"y":0.32,"s":"O"},{"x":80.23,"y":0.39,"s":"B2"},{"x":80.91,"y":0.39,"s":"B2"},{"x":81.76,"y":0.32,"s":"O"},{"x":83.74,"y":0.39,"s":"B2"},{"x":73.03,"y":0.08,"s":"V"},{"x":79.69,"y":0.08,"s":"V"},{"x":69.56,"y":0.01,"s":"B"},
{"x":69.09,"y":0.23,"s":"V"},{"x":69.83,"y":0.23,"s":"V"},{"x":71.49,"y":0.23,"s":"V"},{"x":71.75,"y":0.23,"s":"V"},{"x":71.99,"y":0.23,"s":"V"},{"x":73.48,"y":0.23,"s":"V"},{"x":74.69,"y":0.23,"s":"V"},{"x":76.32,"y":0.23,"s":"V"},{"x":77.09,"y":0.23,"s":"V"},{"x":78.48,"y":0.23,"s":"V"},{"x":78.96,"y":0.23,"s":"V"},{"x":79.34,"y":0.23,"s":"V"},{"x":80.73,"y":0.23,"s":"V"},{"x":81.89,"y":0.23,"s":"V"},{"x":83.52,"y":0.23,"s":"V"},{"x":84.2,"y":0.23,"s":"V"},
{"x":76.23,"y":-0.14,"s":"Y"},{"x":80.32,"y":-0.16,"s":"B2"},{"x":82.06,"y":-0.11,"s":"O"},{"x":66.72,"y":-0.26,"s":"R"},{"x":68.44,"y":-0.56,"s":"R"},{"x":68.23,"y":-0.98,"s":"R"},{"x":68.88,"y":-0.68,"s":"P"},{"x":70.96,"y":-0.26,"s":"R"},{"x":71.46,"y":-0.42,"s":"P"},{"x":72.14,"y":-0.57,"s":"R"},{"x":70.07,"y":-1.45,"s":"B"},{"x":70.6,"y":-2.11,"s":"P"},{"x":69.24,"y":-2.7,"s":"P"},{"x":67.85,"y":-3.49,"s":"B"},{"x":69.59,"y":-3.99,"s":"K"},{"x":72.62,"y":-2.76,"s":"O"},{"x":73.33,"y":-3.68,"s":"L"},{"x":74.78,"y":-3.9,"s":"V"},{"x":70.04,"y":-5.84,"s":"K"},{"x":74.6,"y":-5.79,"s":"M"},{"x":77.92,"y":-5.95,"s":"O"},{"x":71.37,"y":-6.91,"s":"R"},{"x":75.22,"y":-7.75,"s":"O"},{"x":76.02,"y":-7.9,"s":"K"},{"x":79.28,"y":-8.52,"s":"M"},{"x":72.38,"y":-9.1,"s":"L"},{"x":75.28,"y":-0.26,"s":"R"},{"x":75.79,"y":-0.57,"s":"R"},{"x":74.15,"y":-0.72,"s":"R"},{"x":73.65,"y":-1.12,"s":"L"},{"x":75.28,"y":-1.14,"s":"R"},{"x":74.27,"y":-1.56,"s":"R"},{"x":76.46,"y":-1.48,"s":"R"},{"x":77.41,"y":-1.99,"s":"L"},{"x":78.03,"y":-1.2,"s":"V"},{"x":78.36,"y":-0.61,"s":"B"},{"x":79.6,"y":-0.26,"s":"R"},{"x":79.28,"y":-0.61,"s":"R"},{"x":80.31,"y":-0.21,"s":"B2"},{"x":80.46,"y":-0.68,"s":"P"},{"x":81.7,"y":-0.92,"s":"M"},{"x":81.5,"y":-0.79,"s":"Y"},{"x":81.68,"y":-1.15,"s":"Y"},{"x":81.85,"y":-1.21,"s":"L"},{"x":80.52,"y":-1.37,"s":"G2"},{"x":82.66,"y":-1.42,"s":"D"},{"x":82.59,"y":-1.73,"s":"Y"},{"x":79.48,"y":-2.28,"s":"Y"},{"x":81.2,"y":-2.52,"s":"G2"},{"x":80.91,"y":-2.59,"s":"B2"},{"x":81.62,"y":-2.6,"s":"P"},{"x":82.25,"y":-2.63,"s":"M"},{"x":82.72,"y":-2.45,"s":"M"},{"x":79.87,"y":-3.09,"s":"V"},{"x":80.78,"y":-3.05,"s":"L"},{"x":81.91,"y":-3.22,"s":"Y"},{"x":82.68,"y":-0.59,"s":"R"},{"x":82.18,"y":-0.59,"s":"Y"},{"x":82.92,"y":-0.02,"s":"B"},{"x":82.92,"y":-0.34,"s":"B2"},{"x":83.37,"y":-0.23,"s":"B2"},{"x":83.6,"y":-0.34,"s":"B2"},{"x":83.93,"y":-0.26,"s":"R"},{"x":83.93,"y":0.13,"s":"B2"},{"x":83.92,"y":-1.58,"s":"M"},{"x":84.28,"y":-0.52,"s":"P"},{"x":84.07,"y":-4.18,"s":"K"},{"x":84.1,"y":-5.03,"s":"B2"},
{"x":94.32,"y":8.86,"s":"D"},{"x":99.26,"y":8.46,"s":"O2"},{"x":92.01,"y":8.16,"s":"B2"},{"x":86.29,"y":7.6,"s":"B2"},{"x":90.2,"y":7.11,"s":"Y"},{"x":88.51,"y":5.42,"s":"Y"},{"x":92.42,"y":4.94,"s":"O"},{"x":91.8,"y":4.65,"s":"Y"},{"x":92.01,"y":4.44,"s":"G2"},{"x":85.94,"y":4.32,"s":"L"},{"x":86.47,"y":4.11,"s":"R"},{"x":86.47,"y":4.03,"s":"R"},{"x":89.25,"y":4.11,"s":"R"},{"x":98.22,"y":3.94,"s":"K"},{"x":88.63,"y":3.65,"s":"Y"},{"x":99.35,"y":3.39,"s":"Y"},{"x":89.52,"y":3.3,"s":"L"},{"x":89.02,"y":3.1,"s":"B2"},{"x":94.17,"y":3.38,"s":"P"},{"x":90.61,"y":2.97,"s":"G2"},{"x":96.8,"y":3.07,"s":"K"},{"x":96.68,"y":3.01,"s":"B"},{"x":92.86,"y":2.95,"s":"B"},{"x":88.19,"y":2.75,"s":"D"},{"x":89.78,"y":2.72,"s":"R"},{"x":91.86,"y":2.64,"s":"O"},{"x":93.16,"y":2.48,"s":"M"},{"x":91.44,"y":2.19,"s":"G"},{"x":95.91,"y":2.18,"s":"R"},{"x":96.68,"y":2.28,"s":"M"},{"x":97.24,"y":2.0,"s":"R"},{"x":99.9,"y":1.89,"s":"R"},{"x":87.92,"y":1.89,"s":"O2"},{"x":88.87,"y":1.97,"s":"B"},{"x":92.21,"y":1.87,"s":"P"},{"x":85.02,"y":1.67,"s":"K"},{"x":86.11,"y":1.46,"s":"L"},{"x":86.82,"y":1.19,"s":"K"},{"x":87.98,"y":1.28,"s":"O2"},{"x":88.69,"y":1.25,"s":"V"},{"x":89.9,"y":1.34,"s":"R"},{"x":89.99,"y":1.27,"s":"L"},{"x":92.3,"y":1.39,"s":"K"},{"x":95.08,"y":1.43,"s":"Y"},{"x":95.2,"y":1.43,"s":"D"},{"x":94.52,"y":1.23,"s":"L"},{"x":94.55,"y":1.09,"s":"O2"},{"x":95.26,"y":1.0,"s":"B"},{"x":96.12,"y":1.58,"s":"K"},{"x":97.21,"y":1.42,"s":"Y"},{"x":99.44,"y":1.27,"s":"V"},{"x":98.55,"y":1.07,"s":"Y"},{"x":85.88,"y":1.03,"s":"R"},{"x":84.6,"y":0.92,"s":"G"},{"x":85.16,"y":0.79,"s":"L"},{"x":86.99,"y":0.89,"s":"V"},{"x":87.18,"y":0.86,"s":"M"},{"x":87.68,"y":0.96,"s":"B"},{"x":88.78,"y":0.89,"s":"B2"},{"x":88.81,"y":0.69,"s":"B2"},{"x":89.76,"y":1.0,"s":"D"},{"x":90.38,"y":1.06,"s":"K"},{"x":90.79,"y":0.9,"s":"G"},{"x":92.72,"y":0.89,"s":"O"},{"x":94.26,"y":0.73,"s":"B"},{"x":94.34,"y":0.62,"s":"P"},{"x":97.6,"y":0.77,"s":"M"},{"x":97.92,"y":0.8,"s":"O"},{"x":98.0,"y":0.68,"s":"B2"},{"x":98.6,"y":0.61,"s":"G"},{"x":99.4,"y":0.6,"s":"O2"},{"x":99.69,"y":0.55,"s":"K"},{"x":99.14,"y":0.51,"s":"D"},{"x":98.0,"y":0.51,"s":"D"},{"x":84.7,"y":0.51,"s":"D"},{"x":85.4,"y":0.53,"s":"O2"},{"x":86.03,"y":0.46,"s":"B2"},{"x":85.73,"y":0.42,"s":"O"},{"x":86.56,"y":0.32,"s":"B"},{"x":85.23,"y":0.38,"s":"B2"},{"x":88.15,"y":0.38,"s":"B2"},{"x":88.81,"y":0.29,"s":"B2"},{"x":90.2,"y":0.51,"s":"D"},{"x":92.18,"y":0.51,"s":"D"},{"x":93.1,"y":0.47,"s":"B2"},{"x":93.36,"y":0.32,"s":"B2"},{"x":93.2,"y":0.38,"s":"L"},{"x":93.6,"y":0.37,"s":"G2"},{"x":95.33,"y":0.6,"s":"O"},{"x":95.5,"y":0.3,"s":"O"},{"x":95.41,"y":0.39,"s":"G2"},{"x":96.24,"y":0.47,"s":"D"},{"x":96.48,"y":0.39,"s":"B2"},{"x":98.0,"y":0.38,"s":"B2"},{"x":92.5,"y":0.19,"s":"O"},{"x":90.08,"y":0.06,"s":"R"},{"x":94.55,"y":0.06,"s":"L"},{"x":95.33,"y":-0.04,"s":"O"},{"x":96.29,"y":-0.06,"s":"B"},{"x":85.23,"y":0.11,"s":"M"},{"x":84.84,"y":-0.02,"s":"G2"},{"x":86.79,"y":0.04,"s":"G2"},{"x":86.1,"y":0.06,"s":"V"},{"x":92.98,"y":0.06,"s":"V"},{"x":99.69,"y":0.06,"s":"V"},{"x":92.98,"y":-0.02,"s":"P"},
{"x":83.6,"y":0.23,"s":"V"},{"x":84.34,"y":0.23,"s":"V"},{"x":85.35,"y":0.23,"s":"V"},{"x":86.35,"y":0.23,"s":"V"},{"x":87.95,"y":0.23,"s":"V"},{"x":89.16,"y":0.23,"s":"V"},{"x":90.85,"y":0.23,"s":"V"},{"x":91.5,"y":0.23,"s":"V"},{"x":92.18,"y":0.23,"s":"V"},{"x":93.72,"y":0.23,"s":"V"},{"x":95.2,"y":0.23,"s":"V"},{"x":96.42,"y":0.23,"s":"V"},{"x":98.05,"y":0.23,"s":"V"},{"x":98.76,"y":0.23,"s":"V"},
{"x":83.75,"y":-0.34,"s":"B2"},{"x":84.49,"y":-0.34,"s":"B2"},{"x":85.46,"y":-0.34,"s":"B2"},{"x":86.5,"y":-0.34,"s":"B2"},{"x":87.65,"y":-0.34,"s":"B2"},{"x":88.78,"y":-0.34,"s":"B2"},{"x":89.93,"y":-0.34,"s":"B2"},{"x":91.15,"y":-0.34,"s":"B2"},{"x":92.33,"y":-0.34,"s":"B2"},{"x":93.57,"y":-0.34,"s":"B2"},{"x":94.82,"y":-0.34,"s":"B2"},{"x":96.13,"y":-0.34,"s":"B2"},{"x":97.34,"y":-0.34,"s":"B2"},{"x":98.58,"y":-0.34,"s":"B2"},{"x":99.85,"y":-0.34,"s":"B2"},
{"x":83.9,"y":-0.26,"s":"R"},{"x":84.34,"y":-0.52,"s":"P"},{"x":85.67,"y":-0.6,"s":"R"},{"x":86.56,"y":-0.47,"s":"Y"},{"x":87.0,"y":-0.86,"s":"D"},{"x":87.63,"y":-0.57,"s":"B"},{"x":88.19,"y":-0.67,"s":"R"},{"x":88.24,"y":-0.26,"s":"R"},{"x":88.0,"y":-0.21,"s":"O2"},{"x":87.27,"y":-1.09,"s":"L"},{"x":86.95,"y":-1.2,"s":"V"},{"x":85.88,"y":-1.34,"s":"R"},{"x":89.01,"y":-0.92,"s":"O"},{"x":88.98,"y":-1.25,"s":"V"},{"x":90.02,"y":-1.46,"s":"Y"},{"x":87.66,"y":-1.66,"s":"B"},{"x":88.84,"y":-1.57,"s":"R"},{"x":89.11,"y":-1.69,"s":"R"},{"x":91.53,"y":-0.86,"s":"B2"},{"x":91.59,"y":-1.65,"s":"D"},{"x":92.12,"y":-1.46,"s":"B2"},{"x":92.33,"y":-0.68,"s":"P"},{"x":92.53,"y":-0.77,"s":"L"},{"x":92.7,"y":-0.75,"s":"R"},{"x":92.42,"y":-0.86,"s":"Y"},{"x":92.6,"y":-0.26,"s":"R"},{"x":93.75,"y":-0.73,"s":"R"},{"x":93.87,"y":-0.57,"s":"O"},{"x":94.29,"y":-1.09,"s":"P"},{"x":94.19,"y":-1.43,"s":"B2"},{"x":93.57,"y":-1.89,"s":"B"},{"x":94.19,"y":-1.92,"s":"B"},{"x":93.72,"y":-2.08,"s":"K"},{"x":95.47,"y":-1.61,"s":"R"},{"x":95.62,"y":-1.47,"s":"V"},{"x":96.45,"y":-1.85,"s":"O"},{"x":96.42,"y":-1.07,"s":"B2"},{"x":96.12,"y":-1.21,"s":"V"},{"x":97.63,"y":-0.62,"s":"P"},{"x":96.92,"y":-0.26,"s":"R"},{"x":96.29,"y":-0.06,"s":"B"},{"x":95.3,"y":-0.06,"s":"O"},{"x":99.62,"y":-1.0,"s":"B2"},{"x":99.92,"y":-1.51,"s":"V"},{"x":99.6,"y":-0.21,"s":"O2"},{"x":85.61,"y":-2.33,"s":"V"},{"x":84.87,"y":-2.72,"s":"Y"},{"x":86.41,"y":-2.64,"s":"O"},{"x":90.49,"y":-3.03,"s":"O"},{"x":92.6,"y":-2.96,"s":"O"},{"x":89.22,"y":-3.42,"s":"M"},{"x":92.33,"y":-3.5,"s":"R"},{"x":92.16,"y":-3.86,"s":"G2"},{"x":93.69,"y":-3.29,"s":"M"},{"x":95.26,"y":-3.63,"s":"K"},{"x":96.18,"y":-2.39,"s":"V"},{"x":96.71,"y":-2.52,"s":"B"},{"x":97.98,"y":-2.63,"s":"P"},{"x":99.05,"y":-2.35,"s":"Y"},{"x":96.21,"y":-3.51,"s":"V"},{"x":96.62,"y":-3.1,"s":"L"},{"x":85.37,"y":-3.71,"s":"B2"},{"x":84.04,"y":-4.18,"s":"K"},{"x":84.6,"y":-4.24,"s":"G2"},{"x":95.12,"y":-4.55,"s":"R"},{"x":85.4,"y":-4.98,"s":"P"},{"x":87.03,"y":-4.93,"s":"K"},{"x":92.6,"y":-5.04,"s":"B"},{"x":95.94,"y":-5.33,"s":"G2"},{"x":90.73,"y":-5.69,"s":"P"},{"x":90.73,"y":-6.09,"s":"L"},{"x":94.7,"y":-6.2,"s":"V"},{"x":89.0,"y":-6.53,"s":"K"},{"x":90.97,"y":-6.75,"s":"P"},{"x":91.26,"y":-6.97,"s":"Y"},{"x":94.29,"y":-6.94,"s":"M"},{"x":93.52,"y":-7.33,"s":"D"},{"x":91.33,"y":-8.18,"s":"O2"},{"x":94.43,"y":-8.2,"s":"V"},{"x":88.78,"y":-8.71,"s":"P"},{"x":93.96,"y":-8.64,"s":"M"},{"x":89.73,"y":-9.05,"s":"L"},{"x":92.69,"y":-9.0,"s":"B"},{"x":94.46,"y":-9.17,"s":"G2"},{"x":90.91,"y":-9.5,"s":"B"}
]},
"mark":{"type":"circle","size":52,"opacity":1,"clip":true},
"encoding":{
"x":{"field":"x","type":"quantitative",
 "scale":{"domain":[0,102],"nice":false,"zero":false},
 "axis":{"values":[5,10,15,20,25,30,35,40,45,50,55,60,65,70,75,80,85,90,95,100],
  "labelExpr":"datum.value % 20 === 0 ? datum.label : ''",
  "offset":-370.7,"grid":false,
  "domainColor":"#A6A6A6","domainWidth":1.3,
  "tickColor":"#A6A6A6","tickWidth":1.3,
  "tickSize":{"condition":{"test":"datum.value % 20 === 0","value":-12},"value":-7},
  "labelFont":"Liberation Sans","labelFontSize":33,"labelColor":"black",
  "labelBaseline":"middle","labelPadding":42,"labelFlush":false,"labelOverlap":false,"labelBound":false,
  "title":"η","titleFont":"Liberation Sans","titleFontStyle":"italic","titleFontWeight":"normal","titleFontSize":32,"titleColor":"#6E6E6E",
  "titleX":1188,"titleY":4,"titleAlign":"center","titleBaseline":"middle"}},
"y":{"field":"y","type":"quantitative",
 "scale":{"domain":[-9.47,9.0],"nice":false,"zero":false},
 "axis":{"values":[-9,-8,-7,-6,-5,-4,-3,-2,-1,1,2,3,4,5,6,7,8],
  "labelExpr":"abs(datum.value) === 5 ? datum.label : ''",
  "grid":false,
  "domainColor":"#A6A6A6","domainWidth":1.3,
  "tickColor":"#A6A6A6","tickWidth":1.3,
  "tickSize":{"condition":{"test":"abs(datum.value) === 5","value":-14},"value":-8},
  "labelFont":"Liberation Sans","labelFontSize":33,"labelColor":"black",
  "labelPadding":20,"labelFlush":false,"labelOverlap":false,"labelBound":false,
  "title":"\"pη\"","titleFont":"Liberation Sans","titleFontStyle":"italic","titleFontWeight":"normal","titleFontSize":30,"titleColor":"#6E6E6E",
  "titleAngle":0,"titleX":0,"titleY":-42,"titleAlign":"center","titleBaseline":"middle"}},
"color":{"field":"s","type":"nominal",
 "scale":{"domain":["B","O","G","R","P","D","L","Y","M","V","B2","O2","K","G2"],
  "range":["#5E81B5","#E19C24","#8FB032","#EB6235","#8778B3","#C56E1A","#5D9EC7","#FFBF00","#A5609D","#929600","#6685D9","#F89F13","#BC5B80","#47B66D"]},
 "legend":null}
}
}
